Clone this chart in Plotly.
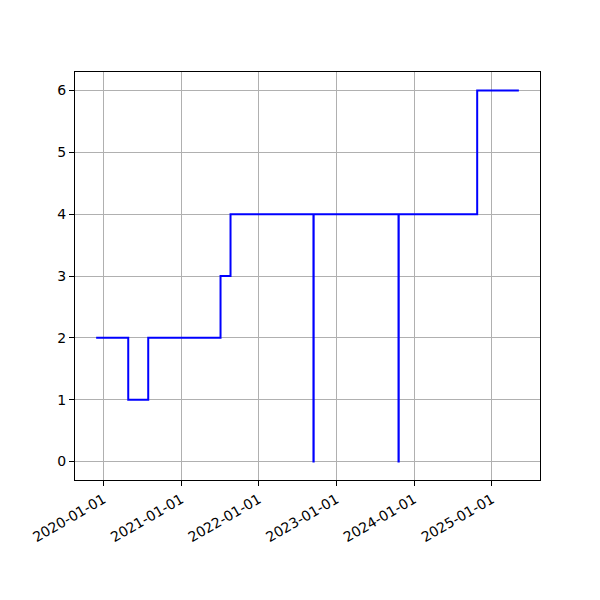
import plotly.graph_objects as go
import pandas as pd

dates = ["2019-11-28", "2020-04-27", "2020-07-30", "2021-07-05", "2021-08-21",
         "2022-09-15", "2022-09-16", "2023-10-20", "2023-10-21", "2024-10-24", "2025-05-08"]
values = [2, 1, 2, 3, 4, 0, 4, 0, 4, 6, 6]
tick_dates = ["2020-01-01", "2021-01-01", "2022-01-01", "2023-01-01", "2024-01-01", "2025-01-01"]

d = pd.to_datetime(dates)
span = d.max() - d.min()
xr = [d.min() - span * 0.05, d.max() + span * 0.05]
vmin, vmax = min(values), max(values)
yr = [vmin - (vmax - vmin) * 0.05, vmax + (vmax - vmin) * 0.05]

fig = go.Figure(go.Scatter(x=d, y=values, mode="lines", line_shape="hv",
                           line=dict(color="blue", width=2)))

axis_common = dict(showline=True, linecolor="black", linewidth=1, mirror=True,
                   ticks="outside", ticklen=5, tickwidth=1, tickcolor="black",
                   showgrid=True, gridcolor="#b0b0b0", gridwidth=1, zeroline=False,
                   automargin=False,
                   tickfont=dict(family="DejaVu Sans", size=14, color="black"))

fig.update_layout(
    width=600, height=600,
    margin=dict(l=67, r=68, t=64, b=128),
    plot_bgcolor="white", paper_bgcolor="white",
    showlegend=False,
    xaxis=dict(range=xr, tickvals=pd.to_datetime(tick_dates), ticktext=tick_dates,
               tickangle=-30, **axis_common),
    yaxis=dict(range=yr, tickvals=list(range(0, 7)), **axis_common),
)

fig.write_html("out.html")
